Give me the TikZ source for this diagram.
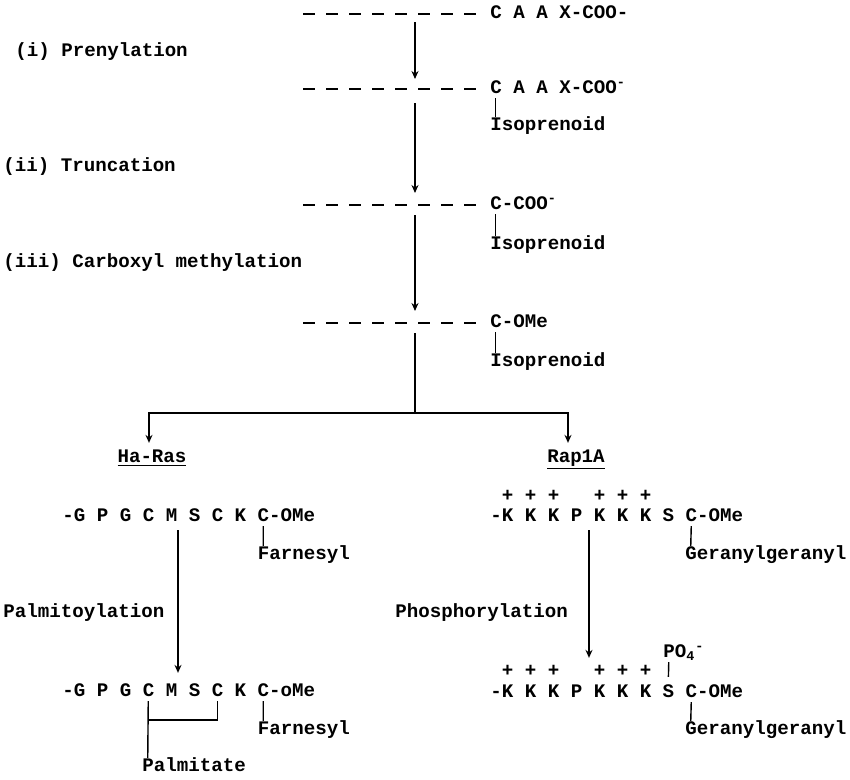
\documentclass[tikz,border=0pt]{standalone}
\usepackage{fontspec}
\setmainfont{Liberation Mono}
\usetikzlibrary{arrows.meta, positioning, calc}

\begin{document}
\begin{tikzpicture}[
    seqtxt/.style={anchor=west, inner sep=0pt, text height=7.5pt, text depth=2.5pt, font=\bfseries\fontsize{10.9pt}{13pt}\selectfont},
    chain/.style={line width=1.4pt, dash pattern=on 0.23cm off 0.23cm},
    rxn/.style={-{Stealth[length=1.6mm, width=1.4mm]}, line width=0.8pt},
    bond/.style={line width=0.8pt}
]
\useasboundingbox (0,0) rectangle (17,-15.58);

% processing steps
\node[seqtxt] (prenyl) at (0.30,-1.04) {(i) Prenylation};
\node[seqtxt] (trunc) at (0.06,-3.34) {(ii) Truncation};
\node[seqtxt] (methyl) at (0.06,-5.26) {(iii) Carboxyl methylation};

\node[seqtxt] (s1) at (9.8,-0.28) {C A A X-COO-};
\node[seqtxt] (s2) at (9.8,-1.78) {C A A X-COO\textsuperscript{-}};
\node[seqtxt] (iso2) at (9.8,-2.52) {Isoprenoid};
\node[seqtxt] (s3) at (9.8,-4.10) {C-COO\textsuperscript{-}};
\node[seqtxt] (iso3) at (9.8,-4.90) {Isoprenoid};
\node[seqtxt] (s4) at (9.8,-6.46) {C-OMe};
\node[seqtxt] (iso4) at (9.8,-7.24) {Isoprenoid};

\foreach \s in {s1,s2,s3,s4}
  \draw[chain] ([xshift=-3.74cm]\s.west) -- ([xshift=-0.29cm]\s.west);
\foreach \s/\i in {s2/iso2,s3/iso3,s4/iso4}
  \draw[bond] ([xshift=0.115cm]\s.south west) -- ([xshift=0.115cm]\i.north west);

\coordinate (c1) at ([xshift=-1.5cm]s1.west);
\coordinate (c2) at ([xshift=-1.5cm]s2.west);
\coordinate (c3) at ([xshift=-1.5cm]s3.west);
\coordinate (c4) at ([xshift=-1.5cm]s4.west);
\coordinate (fork) at ([yshift=-1.8cm]c4);

\draw[rxn, shorten <=0.16cm, shorten >=0.2cm] (c1) -- (c2);
\draw[rxn, shorten <=0.28cm, shorten >=0.24cm] (c2) -- (c3);
\draw[rxn, shorten <=0.2cm, shorten >=0.24cm] (c3) -- (c4);
\draw[bond, shorten <=0.2cm] (c4) -- (fork);

% the two proteins
\node[seqtxt, anchor=center] (hras) at (3.04,-9.16) {\underline{Ha-Ras}};
\node[seqtxt, anchor=center] (rap) at (11.52,-9.16) {\underline{Rap1A}};
\draw[rxn] (fork) -| ([xshift=-0.06cm, yshift=0.12cm]hras.north);
\draw[rxn] (fork) -| ([xshift=-0.16cm, yshift=0.12cm]rap.north);

% Ha-Ras
\node[seqtxt] (hseq1) at (1.24,-10.34) {-G P G C M S C K C-OMe};
\node[seqtxt] (hfarn1) at (5.15,-11.10) {Farnesyl};
\node[seqtxt] (palmit) at (0.06,-12.26) {Palmitoylation};
\node[seqtxt] (hseq2) at (1.24,-13.84) {-G P G C M S C K C-oMe};
\node[seqtxt] (hfarn2) at (5.15,-14.60) {Farnesyl};
\node[seqtxt] (palm) at (2.84,-15.34) {Palmitate};

\draw[bond] ([xshift=4.025cm]hseq1.south west) -- ([xshift=0.115cm]hfarn1.north west);
\draw[bond] ([xshift=4.025cm]hseq2.south west) -- ([xshift=0.115cm]hfarn2.north west);
\draw[rxn, shorten <=0.08cm, shorten >=0.2cm] ([xshift=2.32cm]hseq1.south west) -- ([xshift=2.32cm]hseq2.north west);
\draw[bond] ([xshift=1.725cm]hseq2.south west) -- ([xshift=0.115cm]palm.north west);
\draw[bond] ([xshift=3.105cm]hseq2.south west) -- ++(0,-0.38) -- ++(-1.38,0);

% Rap1A
\node[seqtxt] (rplus1) at (10.03,-9.94) {+ + +~~~+ + +};
\node[seqtxt] (rseq1) at (9.8,-10.34) {-K K K P K K K S C-OMe};
\node[seqtxt] (rger1) at (13.7,-11.10) {Geranylgeranyl};
\node[seqtxt] (phos) at (7.9,-12.26) {Phosphorylation};
\node[seqtxt] (po4) at (13.26,-13.06) {PO\textsubscript{4}\textsuperscript{-}};
\node[seqtxt] (rplus2) at (10.03,-13.44) {+ + +~~~+ + +};
\node[seqtxt] (rseq2) at (9.8,-13.86) {-K K K P K K K S C-OMe};
\node[seqtxt] (rger2) at (13.7,-14.60) {Geranylgeranyl};

\draw[bond] ([xshift=4.025cm]rseq1.south west) -- ([xshift=0.115cm]rger1.north west);
\draw[bond] ([xshift=4.025cm]rseq2.south west) -- ([xshift=0.115cm]rger2.north west);
\draw[rxn, shorten <=0.08cm, shorten >=0.52cm] ([xshift=1.98cm]rseq1.south west) -- ([xshift=1.98cm]rseq2.north west);
\draw[bond, shorten >=0.14cm] ([xshift=0.115cm]po4.south west) -- ([xshift=3.565cm]rseq2.north west);
\end{tikzpicture}
\end{document}
